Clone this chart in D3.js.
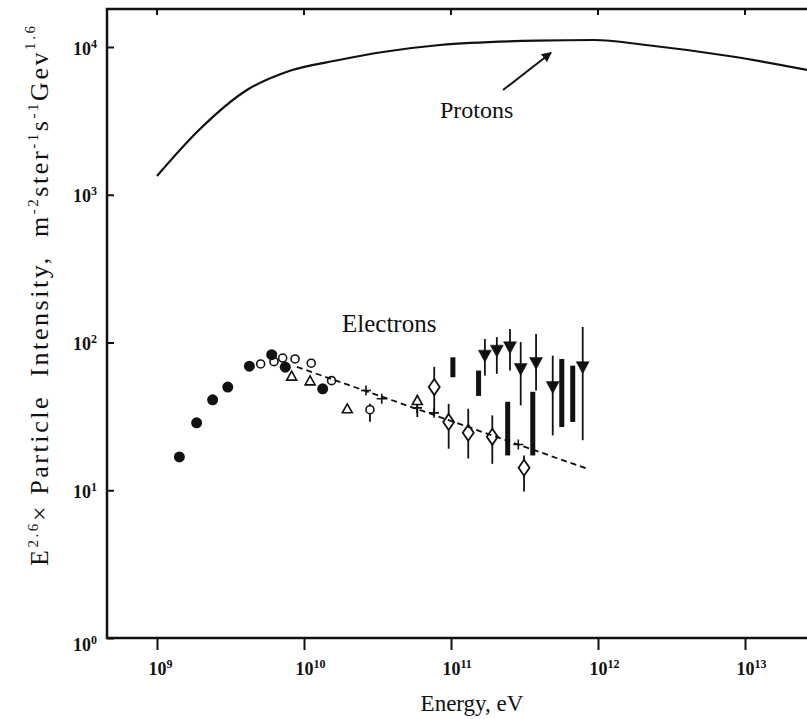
<!DOCTYPE html>
<html>
<head>
<meta charset="utf-8">
<script src="https://cdn.jsdelivr.net/npm/d3@7"></script>
<style>
body { margin: 0; background: #fff; }
svg { display: block; }
text { font-family: "Liberation Serif", "Times New Roman", serif; fill: #111; }
</style>
</head>
<body>
<svg id="chart" width="807" height="719"></svg>
<script>
// decade ticks
var xTicks = [1e9, 1e10, 1e11, 1e12, 1e13];
var xTickExp = ["9", "10", "11", "12", "13"];
var yTicks = [1, 10, 100, 1000, 10000];
var yTickExp = ["0", "1", "2", "3", "4"];

// proton spectrum
var protonE = [1.0e9, 1.93e9, 4.09e9, 7.66e9, 1.73e10, 3.44e10, 8.41e10, 3.85e11, 9.4e11, 2.12e12, 8.41e12, 2.69e13];
var protonI = [1340, 2742, 5117, 6808, 8166, 9250, 10320, 11040, 11150, 10320, 8590, 6980];

// arrow pointing at the proton curve
var arrowE = [2.26e11, 4.79e11];
var arrowI = [5117, 9150];

// electrons: filled circles
var fcE = [1.42e9, 1.86e9, 2.39e9, 3.03e9, 4.25e9, 6.03e9, 7.46e9, 1.34e10];
var fcI = [16.8, 28.6, 40.9, 49.9, 69.1, 82.7, 68.1, 48.6];

// open circles
var ocE = [5.07e9, 6.25e9, 7.16e9, 8.69e9, 1.12e10, 1.54e10, 2.81e10];
var ocI = [71.6, 74.2, 78.5, 77.4, 72.4, 55.2, 35.1];
var ocLo = [null, null, null, null, null, null, 29.1];
var ocHi = [null, null, null, null, null, null, 38.5];

// open triangles
var otE = [8.24e9, 1.10e10, 1.97e10, 5.90e10];
var otI = [59.2, 55.0, 35.6, 40.5];
var otLo = [null, null, null, 31.3];
var otHi = [null, null, null, 43.8];

// small crosses on the fit line
var crE = [2.64e10, 3.38e10, 5.87e10, 7.66e10, 2.87e11];
var crI = [47.3, 41.6, 36.1, 33.4, 20.4];

// open diamonds with error bars
var dmE = [7.69e10, 9.64e10, 1.31e11, 1.91e11, 3.14e11];
var dmI = [49.9, 29.0, 24.5, 23.0, 14.2];
var dmLo = [31.9, 19.1, 16.4, 15.1, 9.8];
var dmHi = [68.4, 38.4, 35.6, 32.1, 17.2];

// solid bars (ranges)
var brE = [1.03e11, 1.54e11, 2.43e11, 3.60e11, 5.67e11, 6.73e11];
var brLo = [58.2, 43.5, 17.2, 17.2, 26.8, 29.0];
var brHi = [79.4, 64.6, 39.7, 46.4, 77.3, 69.7];

// filled down triangles
var tdE = [1.70e11, 2.05e11, 2.52e11, 2.98e11, 3.79e11, 4.92e11, 7.87e11];
var tdI = [81.5, 88.1, 92.9, 66.2, 72.6, 49.9, 68.1];
var tdLo = [59.7, 61.4, 64.6, 37.5, 47.3, 23.5, 21.8];
var tdHi = [105.6, 108.8, 123.3, 100.7, 114, 81.5, 127.4];

// dashed power law through the electrons
var fitE = [8.95e9, 8.41e11];
var fitI = [68.4, 14.0];

var svg = d3.select("#chart");
var plotLeft = 107, plotRight = 812, plotTop = 9;

var x = d3.scaleLog().domain([1e9, 1e13]).range([157, 745]);
var y = d3.scaleLog().domain([1, 1e4]).range([638, 47]);
var plotBottom = y(1);

var ink = "#111";

// frame (left, bottom, top)
svg.append("path")
  .attr("d", "M" + plotRight + "," + plotTop + "H" + plotLeft + "V" + plotBottom + "H" + plotRight)
  .attr("fill", "none").attr("stroke", ink).attr("stroke-width", 2.5);

// bottom axis ticks (outside)
var xAxis = svg.append("g")
  .attr("transform", "translate(0," + plotBottom + ")")
  .call(d3.axisBottom(x).tickValues(xTicks).tickSize(12).tickFormat(function() { return ""; }));
xAxis.select(".domain").remove();
xAxis.selectAll("line").attr("stroke", ink).attr("stroke-width", 2);

xAxis.selectAll(".tick").each(function(d, i) {
  var t = d3.select(this).append("text")
    .attr("x", -9).attr("y", 37)
    .attr("text-anchor", "start")
    .attr("font-size", 18).attr("font-weight", "bold")
    .attr("fill", ink);
  t.append("tspan").text("10");
  t.append("tspan").attr("dy", -7).attr("font-size", 12).text(xTickExp[i]);
});

// top ticks (inside)
svg.append("g").selectAll("line")
  .data(xTicks)
  .enter().append("line")
    .attr("x1", function(d) { return x(d); })
    .attr("x2", function(d) { return x(d); })
    .attr("y1", plotTop).attr("y2", plotTop + 6)
    .attr("stroke", ink).attr("stroke-width", 2);

// left axis ticks (inside)
var yAxis = svg.append("g")
  .attr("transform", "translate(" + plotLeft + ",0)")
  .call(d3.axisRight(y).tickValues(yTicks).tickSize(7).tickFormat(function() { return ""; }));
yAxis.select(".domain").remove();
yAxis.selectAll("line").attr("stroke", ink).attr("stroke-width", 2);

yAxis.selectAll(".tick").each(function(d, i) {
  var t = d3.select(this).append("text")
    .attr("x", -10).attr("y", i === 0 ? 12 : 7)
    .attr("text-anchor", "end")
    .attr("font-size", 18).attr("font-weight", "bold")
    .attr("fill", ink);
  t.append("tspan").text("10");
  t.append("tspan").attr("dy", -7).attr("font-size", 12).text(yTickExp[i]);
});

// axis titles
svg.append("text")
  .attr("x", 472).attr("y", 711)
  .attr("text-anchor", "middle")
  .attr("font-size", 23)
  .text("Energy, eV");

var yt = svg.append("text")
  .attr("transform", "translate(48,296) rotate(-90)")
  .attr("text-anchor", "middle")
  .attr("font-size", 26)
  .attr("textLength", 540)
  .attr("lengthAdjust", "spacing")
  .style("white-space", "pre");
yt.append("tspan").text("E");
yt.append("tspan").attr("dy", -10).attr("font-size", 15).text("2.6");
yt.append("tspan").attr("dy", 10).text("× Particle  Intensity,  m");
yt.append("tspan").attr("dy", -10).attr("font-size", 15).text("-2");
yt.append("tspan").attr("dy", 10).text("ster");
yt.append("tspan").attr("dy", -10).attr("font-size", 15).text("-1");
yt.append("tspan").attr("dy", 10).text("s");
yt.append("tspan").attr("dy", -10).attr("font-size", 15).text("-1");
yt.append("tspan").attr("dy", 10).text("Gev");
yt.append("tspan").attr("dy", -13).attr("font-size", 15).text("1.6");

// protons
var protons = protonE.map(function(e, i) { return [e, protonI[i]]; });
var line = d3.line()
  .x(function(d) { return x(d[0]); })
  .y(function(d) { return y(d[1]); })
  .curve(d3.curveMonotoneX);

svg.append("path")
  .datum(protons)
  .attr("d", line)
  .attr("fill", "none").attr("stroke", ink).attr("stroke-width", 2.2);

svg.append("defs").append("marker")
  .attr("id", "head")
  .attr("viewBox", "0 0 10 10")
  .attr("refX", 9).attr("refY", 5)
  .attr("markerWidth", 5).attr("markerHeight", 5)
  .attr("orient", "auto")
  .append("path").attr("d", "M0,0L10,5L0,10Z").attr("fill", ink);

svg.append("line")
  .attr("x1", x(arrowE[0])).attr("y1", y(arrowI[0]))
  .attr("x2", x(arrowE[1])).attr("y2", y(arrowI[1]))
  .attr("stroke", ink).attr("stroke-width", 2)
  .attr("marker-end", "url(#head)");

svg.append("text").attr("x", 440).attr("y", 118).attr("font-size", 24).text("Protons");
svg.append("text").attr("x", 342).attr("y", 332).attr("font-size", 25).text("Electrons");

// electrons
var pts = svg.append("g");

var errBar = function(es, lo, hi) {
  pts.append("g").selectAll("line")
    .data(es.map(function(e, i) { return { e: e, lo: lo[i], hi: hi[i] }; }).filter(function(d) { return d.lo != null; }))
    .enter().append("line")
      .attr("x1", function(d) { return x(d.e); })
      .attr("x2", function(d) { return x(d.e); })
      .attr("y1", function(d) { return y(d.hi); })
      .attr("y2", function(d) { return y(d.lo); })
      .attr("stroke", ink).attr("stroke-width", 1.8);
};

var shape = function(es, is, pathFn, fill, sw) {
  pts.append("g").selectAll("path")
    .data(es.map(function(e, i) { return [x(e), y(is[i])]; }))
    .enter().append("path")
      .attr("d", function(p) { return pathFn(p[0], p[1]); })
      .attr("fill", fill)
      .attr("stroke", ink).attr("stroke-width", sw);
};

var diamond = function(cx, cy) {
  return "M" + cx + "," + (cy - 8) + "L" + (cx + 5.5) + "," + cy + "L" + cx + "," + (cy + 8) + "L" + (cx - 5.5) + "," + cy + "Z";
};
var triUp = function(cx, cy) {
  return "M" + cx + "," + (cy - 5) + "L" + (cx + 5) + "," + (cy + 4) + "L" + (cx - 5) + "," + (cy + 4) + "Z";
};
var triDown = function(cx, cy) {
  return "M" + (cx - 6.5) + "," + (cy - 5.5) + "L" + (cx + 6.5) + "," + (cy - 5.5) + "L" + cx + "," + (cy + 6.5) + "Z";
};
var circle = function(r) {
  return function(cx, cy) {
    return "M" + (cx - r) + "," + cy + "a" + r + "," + r + " 0 1,0 " + (2 * r) + ",0a" + r + "," + r + " 0 1,0 " + (-2 * r) + ",0Z";
  };
};
var cross = function(cx, cy) {
  return "M" + (cx - 5) + "," + cy + "H" + (cx + 5) + "M" + cx + "," + (cy - 5) + "V" + (cy + 5);
};

// bars
pts.append("g").selectAll("rect")
  .data(brE.map(function(e, i) { return { e: e, lo: brLo[i], hi: brHi[i] }; }))
  .enter().append("rect")
    .attr("x", function(d) { return x(d.e) - 2.5; })
    .attr("width", 5)
    .attr("y", function(d) { return y(d.hi); })
    .attr("height", function(d) { return y(d.lo) - y(d.hi); })
    .attr("fill", ink);

errBar(ocE, ocLo, ocHi);
errBar(otE, otLo, otHi);
errBar(dmE, dmLo, dmHi);
errBar(tdE, tdLo, tdHi);

shape(crE, crI, cross, "none", 1.6);
shape(otE, otI, triUp, "#fff", 1.6);
shape(ocE, ocI, circle(4), "#fff", 1.6);
shape(fcE, fcI, circle(5.5), ink, 0);
shape(dmE, dmI, diamond, "#fff", 1.8);
shape(tdE, tdI, triDown, ink, 0.5);

// fit line
svg.append("line")
  .attr("x1", x(fitE[0])).attr("y1", y(fitI[0]))
  .attr("x2", x(fitE[1])).attr("y2", y(fitI[1]))
  .attr("stroke", ink).attr("stroke-width", 1.8)
  .attr("stroke-dasharray", "6,4");
</script>
</body>
</html>
